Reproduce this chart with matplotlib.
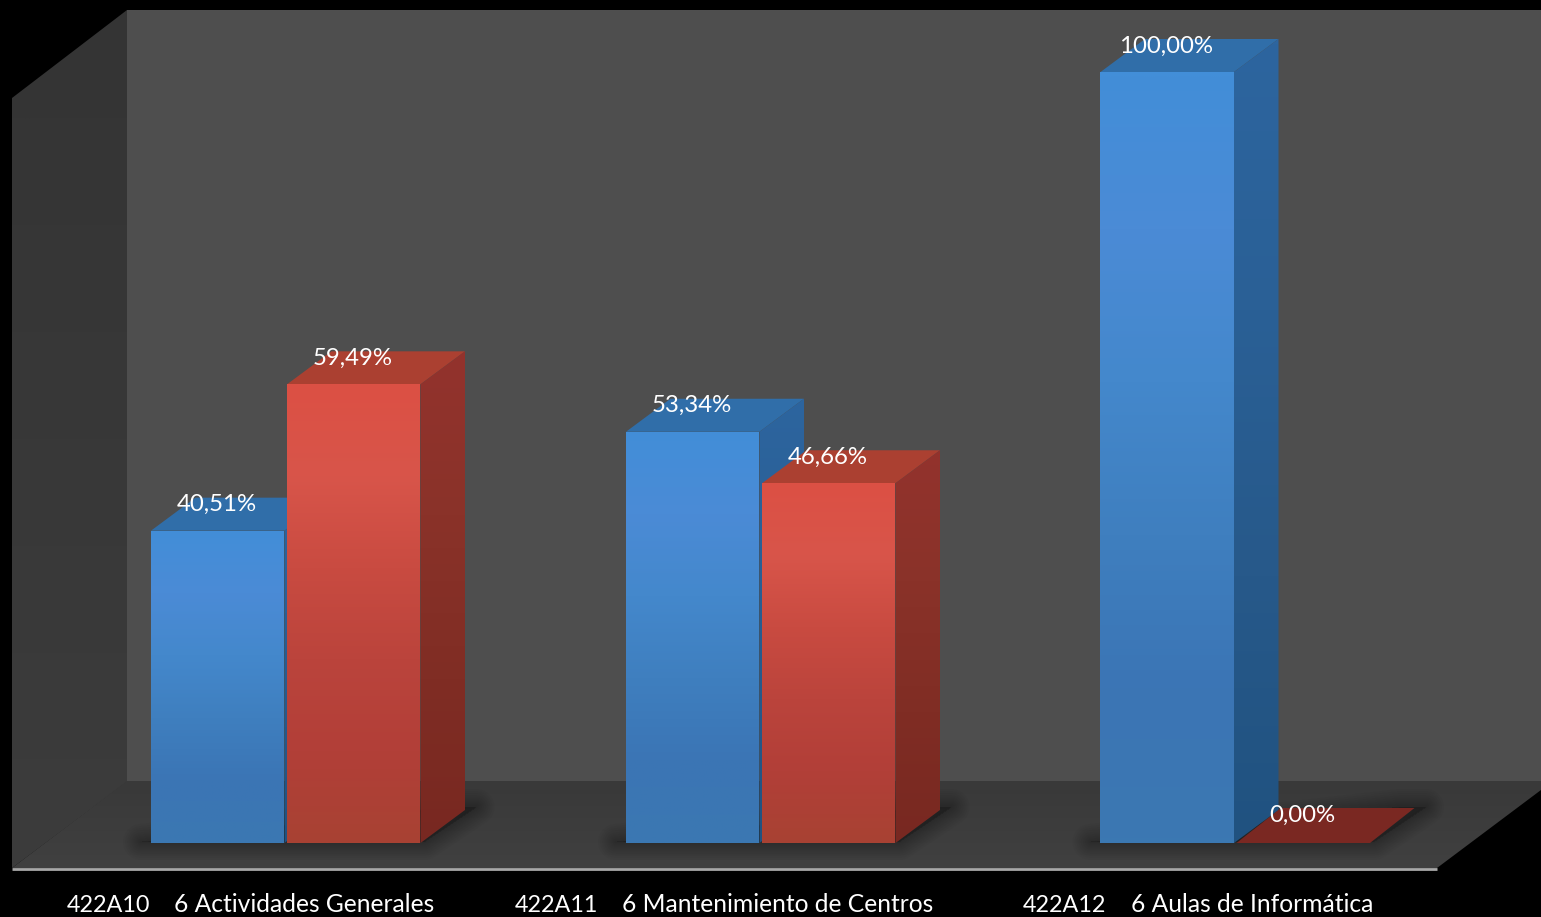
import numpy as np
import matplotlib
matplotlib.use('Agg')
import matplotlib.pyplot as plt
from matplotlib.colors import LinearSegmentedColormap
from matplotlib.patches import Polygon

# values
codes = ['422A10', '422A11', '422A12']
names = ['6 Actividades Generales', '6 Mantenimiento de Centros', '6 Aulas de Informática']
blue_values = [40.51, 53.34, 100.00]
red_values = [59.49, 46.66, 0.00]

# chart geometry in image pixels
W, H = 1541, 917
BASE_Y = 843
TOP_Y = 72
DX, DY = 44.5, 33
BAR_W = 133.5
GROUP_X = [151, 626, 1100.5]
RED_OFFSET = 136
CODE_X = [67, 515, 1023]
NAME_X = [174, 622, 1131]

BLUE_FRONT = ['#428ed8', '#4b8bd6', '#4488cc', '#3f7fbf', '#3b75b5', '#3b78b2']
BLUE_SIDE = ['#2d659f', '#2a6096', '#27598a', '#205280']
BLUE_TOP = '#306ea9'
RED_FRONT = ['#dc5044', '#d8554a', '#c94b41', '#bb443c', '#b23f38', '#a84233']
RED_SIDE = ['#93332d', '#8a3229', '#802d24', '#782821']
RED_TOP = '#ab4031'


def val_y(v):
    return BASE_Y - v / 100 * (BASE_Y - TOP_Y)


def fmt(v):
    return f'{v:.2f}%'.replace('.', ',')


def label_y(v):
    # the flat zero bar has its label a little higher
    return val_y(v) - (26 if v > 0 else 28)


def grad_poly(ax, pts, colors, z):
    pts = np.array(pts)
    cmap = LinearSegmentedColormap.from_list('g', colors)
    grad = np.linspace(0, 1, 256).reshape(-1, 1)
    im = ax.imshow(grad, cmap=cmap, aspect='auto', zorder=z, interpolation='bilinear',
                   extent=(pts[:, 0].min(), pts[:, 0].max(), pts[:, 1].max(), pts[:, 1].min()))
    clip = Polygon(pts, closed=True, transform=ax.transData)
    im.set_clip_path(clip)


def shadow(ax, x0, x1):
    pts = [(x0 - 10, BASE_Y - 1), (x1 + 4, BASE_Y - 1), (x1 + 56, BASE_Y - 36), (x1 + 30, BASE_Y - 36)]
    # stack of wide outlines to fake the blur
    for lw in np.arange(26, 1, -3):
        ax.add_patch(Polygon(pts, closed=True, fc='black', ec='black', lw=lw, alpha=0.025,
                             joinstyle='round', zorder=3))


def draw_bar(ax, x0, value, front, side, top, flat):
    x1 = x0 + BAR_W
    y = val_y(value)
    if value == 0:
        ax.add_patch(Polygon([(x0, BASE_Y), (x1, BASE_Y), (x1 + DX, BASE_Y - DY - 2), (x0 + DX, BASE_Y - DY - 2)],
                             closed=True, fc=flat, ec='none', zorder=5))
        return
    ax.add_patch(Polygon([(x0, y), (x1, y), (x1 + DX, y - DY), (x0 + DX, y - DY)],
                         closed=True, fc=top, ec='none', zorder=5))
    grad_poly(ax, [(x1, y), (x1 + DX, y - DY), (x1 + DX, BASE_Y - DY), (x1, BASE_Y)], side, 5)
    grad_poly(ax, [(x0, y), (x1, y), (x1, BASE_Y), (x0, BASE_Y)], front, 6)


plt.rcParams['font.family'] = ['Lato', 'DejaVu Sans']
fig = plt.figure(figsize=(W / 100, H / 100), dpi=100, facecolor='black')
ax = fig.add_axes([0, 0, 1, 1])
ax.set_axis_off()

# walls and floor
ax.add_patch(Polygon([(127, 10), (W, 10), (W, 782), (127, 782)], closed=True, fc='#4e4e4e', ec='none', zorder=1))
grad_poly(ax, [(12, 98), (127, 10), (127, 782), (12, 868)], ['#343434', '#383838', '#3c3c3c'], 1)
grad_poly(ax, [(127, 781), (W, 781), (W, 790), (1437, 868), (12, 868)], ['#393939', '#404040'], 2)
ax.plot([12, 1437], [869, 869], color='#a8a8a8', lw=2, zorder=3, solid_capstyle='butt')

for i, x in enumerate(GROUP_X):
    shadow(ax, x, x + RED_OFFSET + BAR_W)
    draw_bar(ax, x, blue_values[i], BLUE_FRONT, BLUE_SIDE, BLUE_TOP, BLUE_TOP)
    draw_bar(ax, x + RED_OFFSET, red_values[i], RED_FRONT, RED_SIDE, RED_TOP, '#7a2822')

# data labels and category names
for i, x in enumerate(GROUP_X):
    ax.text(x + BAR_W / 2 - 1, label_y(blue_values[i]), fmt(blue_values[i]), color='white',
            fontsize=17.3, ha='center', va='center', zorder=10)
    ax.text(x + RED_OFFSET + BAR_W / 2 - 1, label_y(red_values[i]), fmt(red_values[i]), color='white',
            fontsize=17.3, ha='center', va='center', zorder=10)
    ax.text(CODE_X[i], 912, codes[i], color='white', fontsize=16.8, ha='left', va='baseline', zorder=10)
    ax.text(NAME_X[i], 912, names[i], color='white', fontsize=17.7, ha='left', va='baseline', zorder=10)

ax.set_xlim(0, W)
ax.set_ylim(H, 0)
fig.savefig('out.png', dpi=100, facecolor='black')
